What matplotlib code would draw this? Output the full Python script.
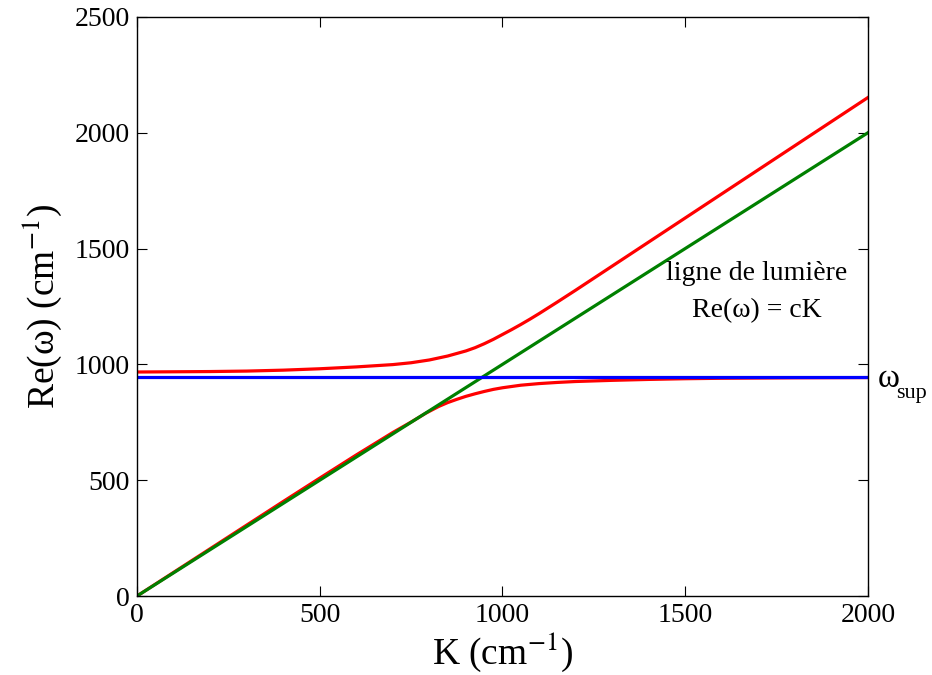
import matplotlib
matplotlib.use("Agg")
import matplotlib.pyplot as plt

# Data
K_upper = [0, 100, 200, 300, 400, 500, 600, 700, 750, 800, 850, 900, 925, 950, 975, 1000,
           1025, 1050, 1075, 1100, 1150, 1200, 1300, 1400, 1500, 1600, 1700, 1800, 1900, 2000]
w_upper = [967, 968, 969, 971, 975, 981, 989, 999, 1007, 1019, 1036, 1058, 1072, 1089, 1108, 1129,
           1150, 1172, 1195, 1219, 1269, 1320, 1424, 1528, 1632, 1736, 1840, 1944, 2048, 2152]

K_lower = [0, 100, 200, 300, 400, 500, 600, 700, 750, 790, 825, 850, 875, 900, 925, 950, 975,
           1000, 1050, 1100, 1150, 1200, 1300, 1400, 1500, 1600, 1800, 2000]
w_lower = [0, 102, 204, 306, 408, 509, 609, 706, 751, 789, 818, 835, 849, 862, 873, 883, 892,
           899, 910, 917, 922, 926, 931, 935, 938, 940, 942, 943]

K_light = [0, 2000]
w_light = [0, 2000]

w_sup = 946
K_range = [0, 2000]

xticks = [0, 500, 1000, 1500, 2000]
yticks = [0, 500, 1000, 1500, 2000, 2500]

plt.rcParams['font.family'] = ['Liberation Serif', 'DejaVu Serif']
plt.rcParams['mathtext.fontset'] = 'stix'

fig = plt.figure(figsize=(9.32, 6.75), dpi=100)
ax = fig.add_axes([0.147, 0.117, 0.7843, 0.858])

lw = 2.3
ax.plot(K_upper, w_upper, color=(1, 0, 0), lw=lw)
ax.plot(K_lower, w_lower, color=(1, 0, 0), lw=lw)
ax.plot(K_light, w_light, color=(0, 0.5, 0), lw=lw)
ax.plot(K_range, [w_sup, w_sup], color=(0, 0, 1), lw=lw)

ax.set_xlim(0, 2000)
ax.set_ylim(0, 2500)
ax.set_xticks(xticks)
ax.set_yticks(yticks)
ax.tick_params(direction='in', top=True, right=True, labelsize=20, length=7, width=0.8, pad=5)
for s in ax.spines.values():
    s.set_linewidth(1.0)

ax.set_xlabel('K (cm$^{-1}$)', fontsize=27, labelpad=2)
ax.set_ylabel('Re(ω) (cm$^{-1}$)', fontsize=27, labelpad=8)

ax.text(1696, 1312, 'ligne de lumière\nRe(ω) = cK', ha='center', va='center',
        fontsize=20, linespacing=1.6)
ax.text(2027, 940, 'ω', ha='left', va='center', fontsize=24, clip_on=False)
ax.text(2077, 875, 'sup', ha='left', va='center', fontsize=16, clip_on=False)

fig.savefig('out.png', dpi=100)
